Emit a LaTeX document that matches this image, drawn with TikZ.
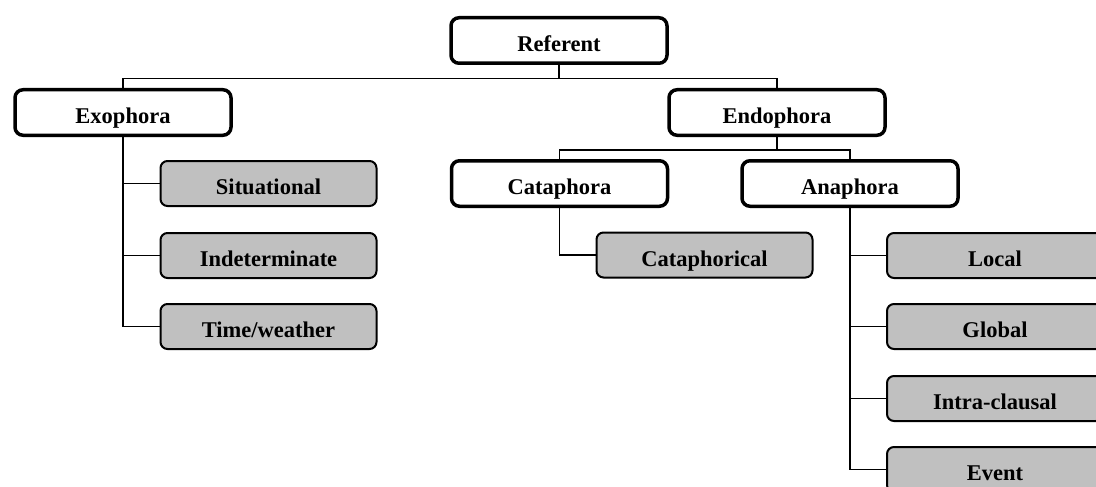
\documentclass[tikz,border=0pt]{standalone}
\usepackage{fontspec}
\setmainfont{Liberation Serif}
\definecolor{boxgray}{HTML}{C0C0C0}
\begin{document}
\begin{tikzpicture}[x=1pt,y=1pt,
  every node/.style={font=\fontsize{22.5}{27}\selectfont\bfseries, inner sep=0pt,
    text height=22.5pt, text depth=0pt},
  wbox/.style={draw=black, fill=white, line width=3.5pt, rounded corners=8pt,
    minimum width=216pt, minimum height=45.5pt},
  gbox/.style={draw=black, fill=boxgray, line width=2pt, rounded corners=7pt,
    minimum width=216pt, minimum height=45pt},
  conn/.style={draw=black, line width=1.8pt}]
\useasboundingbox (0,0) rectangle (1096,-487);
\clip (0,0) rectangle (1096,-487);
% top level
\node[wbox] (ref)  at (559,-40.5)  {Referent};
\node[wbox] (exo)  at (123,-112.5) {Exophora};
\node[wbox] (endo) at (777,-112.5) {Endophora};
\node[wbox] (cata) at (559.5,-183.5) {Cataphora};
\node[wbox] (ana)  at (850,-183.5) {Anaphora};
% gray leaves
\node[gbox] (sit)   at (268.5,-183.5) {Situational};
\node[gbox] (ind)   at (268.5,-255.5) {Indeterminate};
\node[gbox] (tw)    at (268.5,-326.5) {Time/weather};
\node[gbox] (catal) at (704.5,-255)   {Cataphorical};
\node[gbox] (loc)   at (995,-255.5)   {Local};
\node[gbox] (glob)  at (995,-326.5)   {Global};
\node[gbox] (intra) at (995,-398.5)   {Intra-clausal};
\node[gbox] (ev)    at (995,-469.5)   {Event};
% connectors
\draw[conn] (ref.south) -- ++(0,-13.5) coordinate (topbar);
\draw[conn] (exo.north) |- (topbar) -| (endo.north);
\draw[conn] (endo.south) -- ++(0,-13) coordinate (midbar);
\draw[conn] (cata.north) |- (midbar) -| (ana.north);
\draw[conn] (exo.south) |- (sit.west);
\draw[conn] (exo.south) |- (ind.west);
\draw[conn] (exo.south) |- (tw.west);
\draw[conn] (cata.south) |- (catal.west);
\draw[conn] (ana.south) |- (loc.west);
\draw[conn] (ana.south) |- (glob.west);
\draw[conn] (ana.south) |- (intra.west);
\draw[conn] (ana.south) |- (ev.west);
\end{tikzpicture}
\end{document}
